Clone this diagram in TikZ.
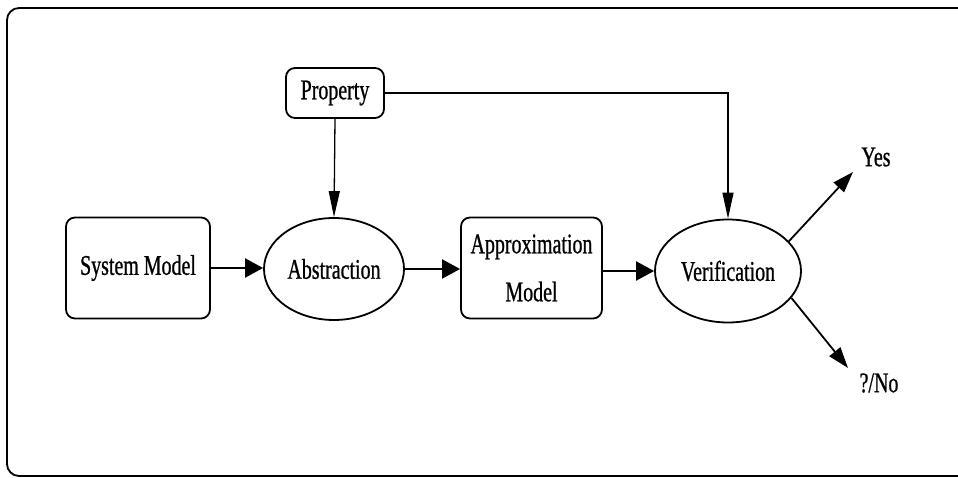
\documentclass[tikz,border=0pt]{standalone}
\usepackage{fontspec}
\setmainfont{Liberation Serif}[FakeStretch=0.7, FakeBold=0.8]
\usetikzlibrary{shapes.geometric,arrows.meta}

\tikzset{
  boxnode/.style={draw, line width=1.8pt, rounded corners=9pt, inner sep=0pt,
    align=center},
  ovalnode/.style={draw, ellipse, line width=1.8pt, inner sep=0pt},
  label/.style={inner sep=0pt},
  flow/.style={line width=2pt, -{Triangle[length=18pt,width=19pt]}},
  feed/.style={line width=1.3pt, -{Triangle[length=26pt,width=11pt]}},
  verdict/.style={line width=1.8pt, -{Triangle[length=21pt,width=14pt]}},
}

\begin{document}
\begin{tikzpicture}[x=1pt, y=-1pt, font=\fontsize{28.5}{48}\selectfont]
  \useasboundingbox (0,0) rectangle (958,478);

  % outer frame
  \draw[line width=1.8pt, rounded corners=12pt] (7,8) rectangle (990,476);

  % nodes
  \node[boxnode, minimum width=98pt, minimum height=50pt] (prop) at (335,93) {Property};
  \node[boxnode, minimum width=144pt, minimum height=101pt] (sys) at (138,268) {System Model};
  \node[ovalnode, minimum width=140pt, minimum height=102pt] (abs) at (334,269) {Abstraction};
  \node[boxnode, minimum width=141pt, minimum height=101pt] (approx) at (531.5,268) {Approximation\\Model};
  \node[ovalnode, minimum width=146pt, minimum height=103pt] (verif) at (728,271) {Verification};

  \coordinate (yesTip) at (853,172);
  \coordinate (noTip) at (848,368);
  \node[label] (yes) at (876,157) {Yes};
  \node[label] (no) at (879,383) {?/No};

  % connectors
  \draw[flow] (sys.east) -- (sys.east -| abs.west);
  \draw[flow] (abs.east) -- (abs.east -| approx.west);
  \draw[flow] (approx.east |- verif.west) -- (verif.west);
  \draw[feed] (prop.south) -- (abs.north);
  \draw[feed] (prop.east) -| (verif.north);
  \draw[verdict] (verif.26) -- (yesTip);
  \draw[verdict] (verif.-23) -- (noTip);
\end{tikzpicture}
\end{document}
